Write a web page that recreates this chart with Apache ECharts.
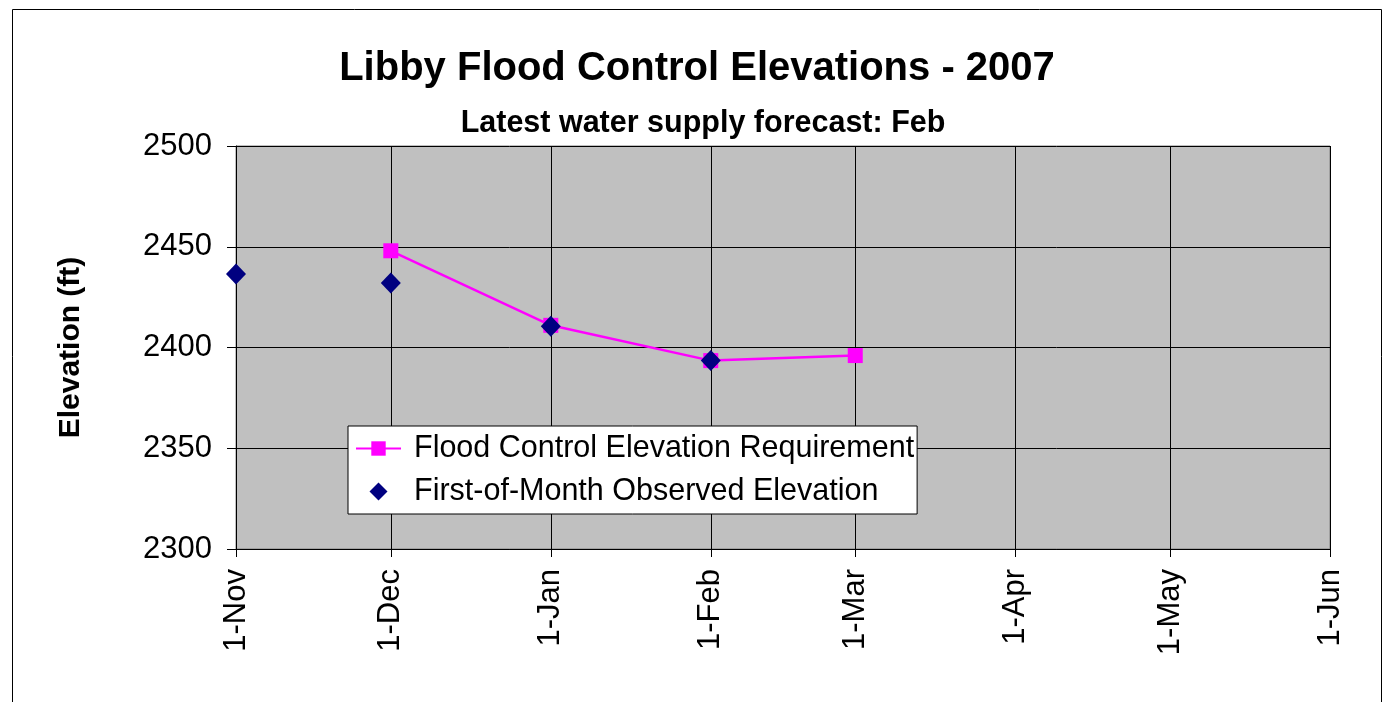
<!DOCTYPE html>
<html>
<head>
<meta charset="utf-8">
<title>Libby Flood Control Elevations - 2007</title>
<script src="https://cdn.jsdelivr.net/npm/echarts@6/dist/echarts.min.js"></script>
<style>
  html, body { margin: 0; padding: 0; background: #fff; }
  #chart { width: 1382px; height: 702px; }
</style>
</head>
<body>
<div id="chart"></div>
<script>
// axis range
const xStart = '2006-11-01';
const xEnd = '2007-06-01';
const monthNames = ['Jan', 'Feb', 'Mar', 'Apr', 'May', 'Jun', 'Jul', 'Aug', 'Sep', 'Oct', 'Nov', 'Dec'];

// flood control requirement
const floodDates = ['2006-12-01', '2007-01-01', '2007-02-01', '2007-03-01'];
const floodValues = [2448, 2411, 2393.5, 2396];

// observed first-of-month elevations
const obsDates = ['2006-11-01', '2006-12-01', '2007-01-01', '2007-02-01'];
const obsValues = [2436.5, 2432, 2410.5, 2393.5];

const font = '"Liberation Sans", Arial, sans-serif';

let chart = echarts.init(document.getElementById('chart'));

let option = {
    animation: false,
    textStyle: {fontFamily: font},
    title: [
        {
            text: 'Libby Flood Control Elevations - 2007',
            left: 692, top: 44, textAlign: 'center',
            textStyle: {fontSize: 40, fontWeight: 'bold', color: '#000', fontFamily: font}
        },
        {
            text: 'Latest water supply forecast: Feb',
            left: 698, top: 103, textAlign: 'center',
            textStyle: {fontSize: 30.5, fontWeight: 'bold', color: '#000', fontFamily: font}
        }
    ],
    graphic: [
        {
            type: 'rect', left: 10, top: 7, silent: true,
            shape: {width: 1369, height: 710},
            style: {fill: 'none', stroke: '#000', lineWidth: 1}
        }
    ],
    legend: {
        orient: 'vertical',
        left: 348, top: 426,
        padding: [7, 3, 7, 7],
        itemGap: 12,
        itemWidth: 45,
        itemHeight: 18,
        symbolKeepAspect: true,
        backgroundColor: '#fff',
        borderColor: '#000',
        borderWidth: 1,
        borderRadius: 0,
        textStyle: {fontSize: 30.5, color: '#000', fontFamily: font, padding: [0, 0, 0, 8]},
        data: [
            {name: 'Flood Control Elevation Requirement'},
            {name: 'First-of-Month Observed Elevation', icon: 'path://M0,-1L1,0L0,1L-1,0Z'}
        ]
    },
    grid: {
        left: 236, right: 52, top: 146, bottom: 153,
        show: true,
        backgroundColor: '#c0c0c0',
        borderColor: '#808080',
        borderWidth: 1
    },
    xAxis: {
        type: 'time',
        min: xStart,
        max: xEnd,
        minInterval: 27 * 86400000,
        maxInterval: 32 * 86400000,
        axisLine: {show: true, lineStyle: {color: '#000', width: 1}},
        axisTick: {show: true, length: 8, inside: false, lineStyle: {color: '#000'}},
        splitLine: {show: true, lineStyle: {color: '#000', width: 1}},
        axisLabel: {
            rotate: 90,
            margin: 20,
            fontSize: 31,
            color: '#000',
            fontFamily: font,
            showMinLabel: true,
            showMaxLabel: true,
            hideOverlap: false,
            formatter: function (v) {
                let d = new Date(v);
                return d.getDate() + '-' + monthNames[d.getMonth()];
            }
        }
    },
    yAxis: {
        type: 'value',
        min: 2300,
        max: 2500,
        interval: 50,
        name: 'Elevation (ft)',
        nameLocation: 'middle',
        nameGap: 150,
        nameTextStyle: {fontSize: 30, fontWeight: 'bold', color: '#000', fontFamily: font},
        axisLine: {show: true, lineStyle: {color: '#000', width: 1}},
        axisTick: {show: true, length: 9, lineStyle: {color: '#000'}},
        splitLine: {show: true, lineStyle: {color: '#000', width: 1}},
        axisLabel: {
            fontSize: 31, color: '#000', margin: 24, fontFamily: font,
            formatter: v => String(v)
        }
    },
    series: [
        {
            name: 'Flood Control Elevation Requirement',
            type: 'line',
            data: floodDates.map((d, i) => [d, floodValues[i]]),
            symbol: 'rect',
            symbolSize: 15,
            lineStyle: {color: '#ff00ff', width: 2.5},
            itemStyle: {color: '#ff00ff'},
            z: 2
        },
        {
            name: 'First-of-Month Observed Elevation',
            type: 'scatter',
            data: obsDates.map((d, i) => [d, obsValues[i]]),
            symbol: 'diamond',
            symbolSize: [20, 21],
            itemStyle: {color: '#000080', opacity: 1},
            z: 3
        }
    ]
};

chart.setOption(option);
</script>
</body>
</html>
